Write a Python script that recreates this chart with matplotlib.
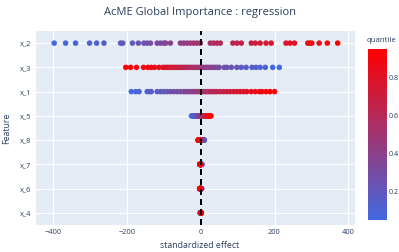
import matplotlib
matplotlib.use("Agg")
import matplotlib.pyplot as plt
from matplotlib.colors import LinearSegmentedColormap, Normalize
import numpy as np

plt.rcParams['font.family'] = ['Open Sans', 'DejaVu Sans']

title = "AcME Global Importance : regression"
features = ["x_4", "x_6", "x_7", "x_8", "x_5", "x_1", "x_3", "x_2"]

quantiles = [0.05, 0.07, 0.09, 0.11, 0.13, 0.15, 0.17, 0.19, 0.21, 0.23,
             0.25, 0.27, 0.29, 0.31, 0.33, 0.35, 0.37, 0.39, 0.41, 0.43,
             0.45, 0.47, 0.49, 0.51, 0.53, 0.55, 0.57, 0.59, 0.61, 0.63,
             0.65, 0.67, 0.69, 0.71, 0.73, 0.75, 0.77, 0.79, 0.81, 0.83,
             0.85, 0.87, 0.89, 0.91, 0.93, 0.95]

effects_x_2 = [-397, -366, -339, -301, -282, -262, -217, -211, -185, -169,
               -154, -145, -136, -118, -109, -100, -95, -82, -55, -46,
               -37, -28, -19, -10, -1, 26, 35, 44, 53, 87,
               98, 110, 137, 148, 161, 177, 191, 231, 242, 254,
               290, 296, 301, 321, 343, 371]
effects_x_3 = [213, 195, 175, 161, 150, 139, 123, 110, 98, 83,
               71, 64, 50, 44, 38, 32, 26, 20, 14, 8,
               2, -4, -10, -16, -22, -28, -34, -40, -46, -52,
               -58, -64, -70, -76, -82, -89, -95, -102, -113, -125,
               -134, -143, -155, -174, -190, -203]
effects_x_1 = [-188, -176, -167, -145, -138, -134, -118, -109, -100, -91,
               -82, -73, -64, -55, -46, -40, -34, -28, -22, -16,
               -10, -4, 2, 8, 14, 20, 26, 32, 38, 44,
               53, 62, 71, 80, 89, 98, 107, 116, 125, 137,
               148, 159, 166, 177, 188, 200]
effects_x_5 = [-25, -23, -21, -19, -17, -15, -13, -11, -10, -9,
               -8, -7, -6, -5, -4, -3, -2, -1, 0, 1,
               2, 3, 4, 5, 6, 7, 8, 9, 10, 11,
               12, 13, 14, 15, 16, 17, 18, 19, 20, 21,
               22, 23, 24, 25, 26, 28]
effects_x_8 = [10, 9.5, 9, 8.5, 8, 7.5, 7, 6.5, 6, 5.5,
               5, 4.5, 4, 3.5, 3, 2.5, 2, 1.5, 1, 0.5,
               0, -0.5, -1, -1.5, -2, -2.5, -3, -3.2, -3.4, -3.6,
               -3.8, -4, -4.2, -4.4, -4.6, -4.8, -5, -5.2, -5.4, -5.6,
               -5.8, -6, -6.2, -6.5, -6.8, -7]
effects_x_7 = [3, 2.8, 2.6, 2.4, 2.2, 2, 1.8, 1.6, 1.4, 1.2,
               1, 0.9, 0.8, 0.7, 0.6, 0.5, 0.4, 0.3, 0.2, 0.1,
               0, -0.1, -0.2, -0.3, -0.4, -0.5, -0.6, -0.7, -0.8, -0.9,
               -1, -1.1, -1.2, -1.3, -1.4, -1.5, -1.6, -1.7, -1.8, -1.9,
               -2, -2.1, -2.2, -2.3, -2.4, -2.5]
effects_x_6 = [2.5, 2.3, 2.1, 1.9, 1.7, 1.5, 1.3, 1.1, 0.9, 0.8,
               0.7, 0.6, 0.5, 0.4, 0.3, 0.2, 0.1, 0, -0.1, -0.2,
               -0.3, -0.4, -0.5, -0.6, -0.7, -0.8, -0.9, -1, -1.1, -1.2,
               -1.3, -1.4, -1.5, -1.6, -1.7, -1.8, -1.9, -2, -2.1, -2.2,
               -2.3, -2.4, -2.5, -2.6, -2.7, -2.8]
effects_x_4 = [-1.2, -1.1, -1, -0.9, -0.8, -0.7, -0.6, -0.5, -0.4, -0.3,
               -0.2, -0.1, 0, 0.05, 0.1, 0.15, 0.2, 0.25, 0.3, 0.35,
               0.4, 0.45, 0.5, 0.55, 0.6, 0.65, 0.7, 0.75, 0.8, 0.85,
               0.9, 0.95, 1, 1.05, 1.1, 1.15, 1.2, 1.25, 1.3, 1.35,
               1.4, 1.45, 1.5, 1.55, 1.6, 1.7]

effects = {"x_4": effects_x_4, "x_6": effects_x_6, "x_7": effects_x_7,
           "x_8": effects_x_8, "x_5": effects_x_5, "x_1": effects_x_1,
           "x_3": effects_x_3, "x_2": effects_x_2}

x_ticks = [-400, -200, 0, 200, 400]
cbar_ticks = [0.2, 0.4, 0.6, 0.8]

TXT = "#2a3f5f"
BG = "#E5ECF6"
cmap = LinearSegmentedColormap.from_list("bluered", ["#4169E1", "#FF0000"])
norm = Normalize(vmin=min(quantiles), vmax=max(quantiles))

W, H = 399, 252
fig = plt.figure(figsize=(W / 100, H / 100), dpi=100)
ax = fig.add_axes([35.7 / W, 1 - 225 / H, (355 - 35.7) / W, (225 - 31) / H])
ax.set_facecolor(BG)
for s in ax.spines.values():
    s.set_visible(False)

for i, f in enumerate(features):
    vals = effects[f]
    ax.scatter(vals, [i] * len(vals), c=quantiles, cmap=cmap, norm=norm,
               s=16, linewidths=0, zorder=3)

ax.axvline(0, color="black", lw=1.44, ls=(0, (3, 2)), zorder=4)

ax.set_xlim(-447, 418)
ax.set_ylim(-0.5, len(features) - 0.5)
ax.set_xticks(x_ticks)
ax.set_xticklabels(["\u2212400", "\u2212200", "0", "200", "400"])
ax.set_yticks(range(len(features)))
ax.set_yticklabels(features)
ax.grid(True, color="white", lw=0.75, zorder=0)
ax.set_axisbelow(True)
ax.tick_params(length=0, labelsize=5.4, labelcolor=TXT, pad=3)

fig.text(200 / W, 1 - 245 / H, "standardized effect", ha="center", va="center",
         fontsize=6.3, color=TXT)
fig.text(7 / W, 1 - 128 / H, "Feature", ha="center", va="center",
         rotation=90, fontsize=6.3, color=TXT)
fig.text(200 / W, 1 - 12 / H, title, ha="center", va="center", fontsize=8.0, color=TXT)

cax = fig.add_axes([367.7 / W, 1 - 220 / H, 19.3 / W, (220 - 49) / H])
sm = plt.cm.ScalarMappable(norm=norm, cmap=cmap)
cb = fig.colorbar(sm, cax=cax)
cb.outline.set_visible(False)
cb.set_ticks(cbar_ticks)
cb.ax.tick_params(length=0, labelsize=5.2, labelcolor=TXT, pad=1.5)
fig.text(367 / W, 1 - 41 / H, "quantile", ha="left", va="center", fontsize=5.6, color=TXT)

fig.savefig("out.png", dpi=100)
